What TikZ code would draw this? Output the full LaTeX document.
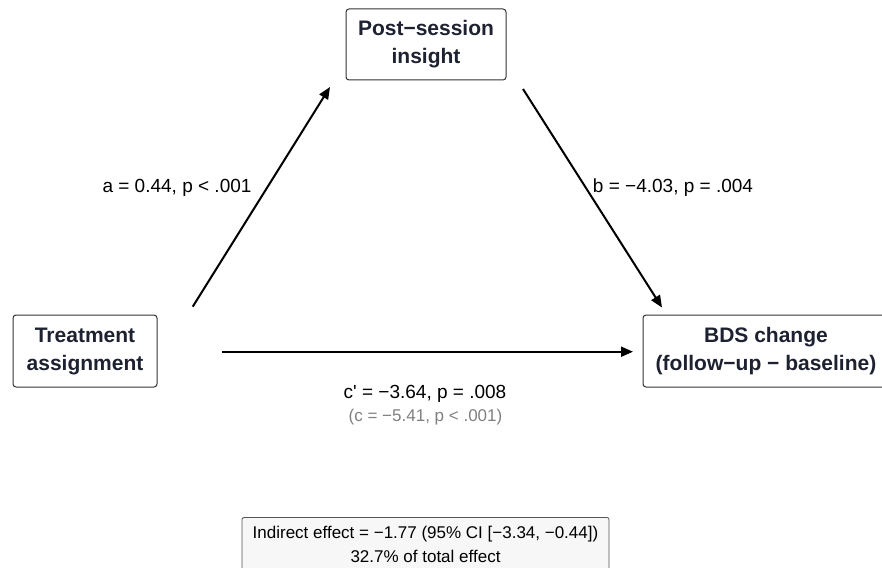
\documentclass[tikz,border=0pt]{standalone}
\usepackage{fontspec}
\setmainfont{Liberation Sans}
\usetikzlibrary{arrows.meta}
\definecolor{nodetext}{HTML}{1E2130}
\definecolor{boxline}{HTML}{333333}
\definecolor{cgray}{HTML}{808080}
\definecolor{notefill}{HTML}{F7F7F7}
\definecolor{noteline}{HTML}{555555}
\begin{document}
\begin{tikzpicture}[x=1pt,y=-1pt,
  varbox/.style={draw=boxline, line width=1pt, rounded corners=3pt, fill=white,
    text=nodetext, align=center, inner sep=0pt,
    font=\fontsize{21}{28}\selectfont\bfseries},
  pathlbl/.style={anchor=base, inner sep=0pt, text=black, font=\fontsize{19}{23}\selectfont},
  graylbl/.style={anchor=base, inner sep=0pt, text=cgray, font=\fontsize{17}{21}\selectfont},
  notebox/.style={draw=noteline, line width=0.8pt, rounded corners=2pt, fill=notefill,
    text=black, align=center, inner sep=0pt, font=\fontsize{17}{24}\selectfont},
  patharrow/.style={line width=2pt, -{Triangle[length=12pt,width=10pt]}}]
\useasboundingbox (0,0) rectangle (882,567);
\clip (0,0) rectangle (882,567);

\node[varbox, minimum width=160pt, minimum height=71pt] (M) at (426,44.5) {Post−session\\insight};
\node[varbox, minimum width=144pt, minimum height=72pt] (X) at (85,351) {Treatment\\assignment};
\node[varbox, minimum width=246pt, minimum height=72pt] (Y) at (766,351) {BDS change\\(follow−up − baseline)};

\coordinate (a1) at (192.7,306.7);
\coordinate (a2) at (330,87);
\coordinate (b1) at (523,89);
\coordinate (b2) at (662,307.5);
\coordinate (c1) at (221.7,351.7);
\coordinate (c2) at (633,351.7);

\draw[patharrow] (a1) -- (a2);
\draw[patharrow] (b1) -- (b2);
\draw[patharrow] (c1) -- (c2);

\node[pathlbl] (la) at (177,192) {a = 0.44, p < .001};
\node[pathlbl] (lb) at (673,192) {b = −4.03, p = .004};
\node[pathlbl] (lc) at (425,398) {c\textquotesingle{} = −3.64, p = .008};
\node[graylbl] (lt) at (425.5,421) {(c = −5.41, p < .001)};

\node[notebox, minimum width=367pt, minimum height=53pt] (N) at (425.5,544) {Indirect effect = −1.77 (95\% CI [−3.34, −0.44])\\32.7\% of total effect};
\end{tikzpicture}
\end{document}
